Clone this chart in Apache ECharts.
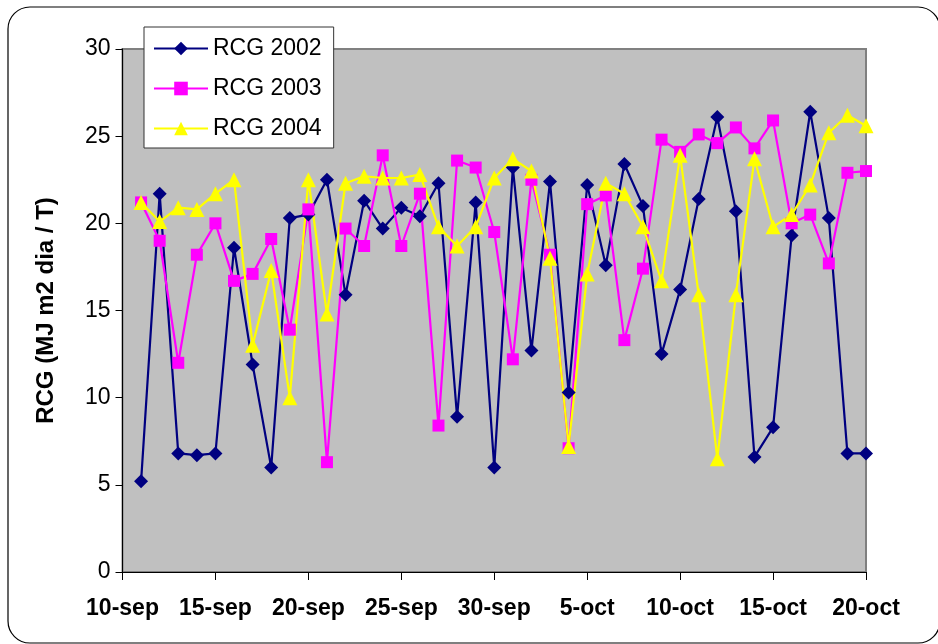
<!DOCTYPE html>
<html>
<head>
<meta charset="utf-8">
<title>RCG</title>
<script src="https://cdn.jsdelivr.net/npm/echarts@6/dist/echarts.min.js"></script>
<style>
    html, body { margin: 0; padding: 0; background: #fff; }
    #divRcg { width: 938px; height: 644px; }
</style>
</head>
<body>
<div id="divRcg"></div>
<script>
// days from 10-sep to 20-oct (no reading on 10-sep)
let days = ['10-sep', '11-sep', '12-sep', '13-sep', '14-sep', '15-sep', '16-sep', '17-sep', '18-sep', '19-sep',
    '20-sep', '21-sep', '22-sep', '23-sep', '24-sep', '25-sep', '26-sep', '27-sep', '28-sep', '29-sep',
    '30-sep', '1-oct', '2-oct', '3-oct', '4-oct', '5-oct', '6-oct', '7-oct', '8-oct', '9-oct',
    '10-oct', '11-oct', '12-oct', '13-oct', '14-oct', '15-oct', '16-oct', '17-oct', '18-oct', '19-oct', '20-oct'];

let rcg2002 = [null, 5.2, 21.7, 6.8, 6.7, 6.8, 18.6, 11.9, 6.0, 20.3,
    20.5, 22.5, 15.9, 21.3, 19.7, 20.9, 20.4, 22.3, 8.9, 21.2,
    6.0, 23.2, 12.7, 22.4, 10.3, 22.2, 17.6, 23.4, 21.0, 12.5,
    16.2, 21.4, 26.1, 20.7, 6.6, 8.3, 19.3, 26.4, 20.3, 6.8, 6.8];

let rcg2003 = [null, 21.2, 19.0, 12.0, 18.2, 20.0, 16.7, 17.1, 19.1, 13.9,
    20.8, 6.3, 19.7, 18.7, 23.9, 18.7, 21.7, 8.4, 23.6, 23.2,
    19.5, 12.2, 22.5, 18.2, 7.1, 21.1, 21.6, 13.3, 17.4, 24.8,
    24.1, 25.1, 24.6, 25.5, 24.3, 25.9, 20.0, 20.5, 17.7, 22.9, 23.0];

let rcg2004 = [null, 21.2, 20.1, 20.9, 20.8, 21.7, 22.5, 13.0, 17.3, 10.0,
    22.5, 14.8, 22.3, 22.7, 22.6, 22.6, 22.8, 19.8, 18.7, 19.8,
    22.6, 23.7, 23.0, 18.0, 7.2, 17.1, 22.3, 21.7, 19.8, 16.7,
    23.9, 15.9, 6.5, 15.9, 23.7, 19.8, 20.5, 22.2, 25.2, 26.2, 25.6];

let font = "'Liberation Sans', Arial, sans-serif";

function makeSeries(name, data, color, symbol, size) {
    return {
        name: name,
        type: 'line',
        data: data,
        symbol: symbol,
        symbolSize: size,
        showAllSymbol: true,
        connectNulls: true,
        lineStyle: {color: color, width: 2.2},
        itemStyle: {color: color},
        emphasis: {disabled: true}
    };
}

let myChart = echarts.init(document.getElementById('divRcg'));

let option = {
    animation: false,
    // rounded frame around the whole chart
    graphic: [{
        type: 'rect',
        shape: {x: 8, y: 7, width: 932, height: 636, r: 22},
        style: {fill: 'none', stroke: '#000', lineWidth: 1.2},
        silent: true
    }],
    grid: {
        left: 122.5,
        right: 72,
        top: 49,
        bottom: 72,
        show: true,
        backgroundColor: '#c0c0c0',
        borderColor: '#808080',
        borderWidth: 2
    },
    legend: {
        orient: 'vertical',
        left: 144,
        top: 27,
        backgroundColor: '#fff',
        borderColor: '#333',
        borderWidth: 1,
        padding: [10, 12, 8, 9],
        itemGap: 17,
        itemWidth: 54,
        itemHeight: 17,
        textStyle: {fontFamily: font, fontSize: 23, color: '#000'},
        data: ['RCG 2002', 'RCG 2003', 'RCG 2004']
    },
    xAxis: {
        type: 'category',
        boundaryGap: false,
        data: days,
        axisLine: {lineStyle: {color: '#000', width: 1}},
        axisTick: {interval: 4, length: 8, lineStyle: {color: '#000'}},
        axisLabel: {
            interval: 4,
            margin: 25,
            fontFamily: font,
            fontSize: 23,
            fontWeight: 'bold',
            color: '#000'
        },
        splitLine: {show: false}
    },
    yAxis: {
        type: 'value',
        min: 0,
        max: 30,
        interval: 5,
        name: 'RCG (MJ m2 dia / T)',
        nameLocation: 'middle',
        nameGap: 64,
        nameTextStyle: {fontFamily: font, fontSize: 24, fontWeight: 'bold', color: '#000'},
        axisLine: {show: true, lineStyle: {color: '#000', width: 1}},
        axisTick: {show: true, length: 7, lineStyle: {color: '#000'}},
        axisLabel: {margin: 12, fontFamily: font, fontSize: 23, color: '#000'},
        splitLine: {show: false}
    },
    series: [
        makeSeries('RCG 2002', rcg2002, '#000080', 'diamond', 14),
        makeSeries('RCG 2003', rcg2003, '#ff00ff', 'rect', 12),
        makeSeries('RCG 2004', rcg2004, '#ffff00', 'triangle', 15)
    ]
};

myChart.setOption(option);
</script>
</body>
</html>
